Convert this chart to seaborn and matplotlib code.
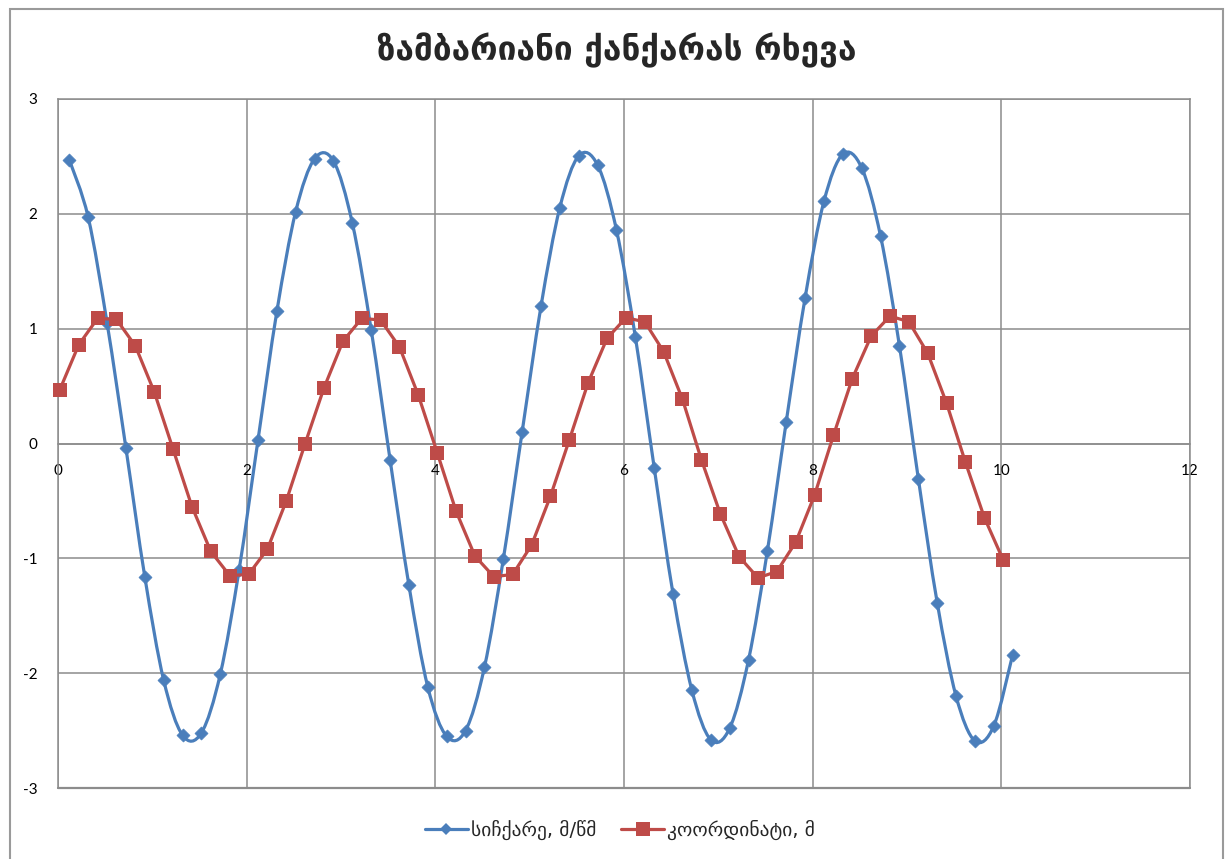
import numpy as np
import pandas as pd
import matplotlib
matplotlib.use("Agg")
import matplotlib.pyplot as plt
import seaborn as sns
from matplotlib.path import Path
from matplotlib.patches import PathPatch, Rectangle
from matplotlib.lines import Line2D

# ---------------- data ----------------
title = "ზამბარიანი ქანქარას რხევა"
label_v = "სიჩქარე, მ/წმ"
label_x = "კოორდინატი, მ"

t_v = [0.12, 0.32, 0.52, 0.72, 0.92, 1.12, 1.32, 1.52, 1.72, 1.92,
       2.12, 2.32, 2.52, 2.72, 2.92, 3.12, 3.32, 3.52, 3.72, 3.92,
       4.12, 4.32, 4.52, 4.72, 4.92, 5.12, 5.32, 5.52, 5.72, 5.92,
       6.12, 6.32, 6.52, 6.72, 6.92, 7.12, 7.32, 7.52, 7.72, 7.92,
       8.12, 8.32, 8.52, 8.72, 8.92, 9.12, 9.32, 9.52, 9.72, 9.92, 10.12]
velocity = [2.47, 1.97, 1.05, -0.04, -1.16, -2.06, -2.54, -2.52, -2.01, -1.10,
            0.03, 1.15, 2.02, 2.48, 2.46, 1.92, 0.99, -0.14, -1.235, -2.12,
            -2.55, -2.50, -1.95, -1.01, 0.10, 1.195, 2.055, 2.505, 2.425, 1.86,
            0.93, -0.21, -1.31, -2.15, -2.58, -2.48, -1.885, -0.935, 0.19, 1.27,
            2.11, 2.52, 2.40, 1.805, 0.85, -0.305, -1.385, -2.20, -2.59, -2.46, -1.84]

t_x = [0.02, 0.22, 0.42, 0.62, 0.82, 1.02, 1.22, 1.42, 1.62, 1.82,
       2.02, 2.22, 2.42, 2.62, 2.82, 3.02, 3.22, 3.42, 3.62, 3.82,
       4.02, 4.22, 4.42, 4.62, 4.82, 5.02, 5.22, 5.42, 5.62, 5.82,
       6.02, 6.22, 6.42, 6.62, 6.82, 7.02, 7.22, 7.42, 7.62, 7.82,
       8.02, 8.22, 8.42, 8.62, 8.82, 9.02, 9.22, 9.42, 9.62, 9.82, 10.02]
coordinate = [0.47, 0.86, 1.09, 1.08, 0.85, 0.45, -0.05, -0.55, -0.94, -1.15,
              -1.14, -0.92, -0.50, 0.00, 0.485, 0.89, 1.09, 1.075, 0.84, 0.42,
              -0.08, -0.59, -0.98, -1.16, -1.14, -0.885, -0.46, 0.03, 0.53, 0.915,
              1.095, 1.06, 0.80, 0.385, -0.14, -0.61, -0.985, -1.17, -1.115, -0.86,
              -0.45, 0.07, 0.565, 0.935, 1.11, 1.06, 0.785, 0.35, -0.165, -0.645, -1.015]

x_ticks = [0, 2, 4, 6, 8, 10, 12]
y_ticks = [-3, -2, -1, 0, 1, 2, 3]

# ---------------- style ----------------
sns.set_style("white")
plt.rcParams["font.family"] = ["Lato", "DejaVu Sans"]

BLUE = "#4A7EBB"
RED = "#BE4B48"
GRID = "#8C8C8C"

df_v = pd.DataFrame({"t": t_v, "v": velocity})
df_x = pd.DataFrame({"t": t_x, "x": coordinate})

fig = plt.figure(figsize=(12.27, 8.59), dpi=100)
W, H = 1227, 859
ax = fig.add_axes([58 / W, (H - 788) / H, (1190 - 58) / W, (788 - 99) / H])

# smoothed velocity curve (Bezier segments through the data points)
pts = np.column_stack([df_v["t"].to_numpy(), df_v["v"].to_numpy()])
n = len(pts)
verts = [tuple(pts[0])]
codes = [Path.MOVETO]
for i in range(n - 1):
    p0 = pts[i - 1] if i > 0 else pts[i]
    p1 = pts[i]
    p2 = pts[i + 1]
    p3 = pts[i + 2] if i + 2 < n else pts[i + 1]
    c1 = p1 + (p2 - p0) / 6.0
    c2 = p2 - (p3 - p1) / 6.0
    verts += [tuple(c1), tuple(c2), tuple(p2)]
    codes += [Path.CURVE4] * 3
ax.add_patch(PathPatch(Path(verts, codes), facecolor="none", edgecolor=BLUE,
                       lw=2.3, zorder=3, capstyle="round", joinstyle="round"))
sns.scatterplot(data=df_v, x="t", y="v", marker="D", s=44, color=BLUE,
                edgecolor=BLUE, linewidth=0.5, ax=ax, zorder=4, clip_on=False)

sns.lineplot(data=df_x, x="t", y="x", color=RED, lw=2.3, marker="s",
             markersize=9.5, markeredgewidth=0, ax=ax, zorder=5, clip_on=False,
             sort=False)

ax.set_xlim(0, 12)
ax.set_ylim(-3, 3)
ax.set_xticks(x_ticks)
ax.set_yticks(y_ticks)
ax.set_xticklabels([str(v) for v in x_ticks])
ax.set_yticklabels([str(v) for v in y_ticks])
ax.set_xlabel("")
ax.set_ylabel("")
ax.grid(True, color=GRID, lw=1.1)
ax.set_axisbelow(True)

for side in ["top", "right", "left"]:
    ax.spines[side].set_color(GRID)
    ax.spines[side].set_linewidth(1.1)
ax.spines["bottom"].set_position(("data", 0))
ax.spines["bottom"].set_color(GRID)
ax.spines["bottom"].set_linewidth(1.1)
ax.axhline(-3, color=GRID, lw=1.6, clip_on=False, zorder=1)

ax.tick_params(axis="both", length=0, labelsize=11, colors="black")
ax.tick_params(axis="y", pad=15)
ax.tick_params(axis="x", pad=15)

# title
fig.text(617 / W, 1 - 50 / H, title, ha="center", va="center",
         fontsize=24, fontweight="bold", family=["DejaVu Sans"])

# legend
handles = [
    Line2D([], [], color=BLUE, lw=2.3, marker="D", markersize=6.5, markeredgewidth=0),
    Line2D([], [], color=RED, lw=2.3, marker="s", markersize=9.5, markeredgewidth=0),
]
fig.legend(handles, [label_v, label_x], loc="center", bbox_to_anchor=(620 / W, (H - 830) / H),
           ncol=2, frameon=False, handlelength=2.2, handletextpad=0.15,
           columnspacing=1.3, prop={"family": ["DejaVu Sans"], "size": 14})

# outer chart border
fig.patches.append(Rectangle((10 / W, -0.05), (1223 - 10) / W, (1 - 9 / H) + 0.05,
                             transform=fig.transFigure, fill=False,
                             edgecolor="#9A9A9A", lw=1.5, zorder=0))

fig.savefig("out.png", dpi=100)
